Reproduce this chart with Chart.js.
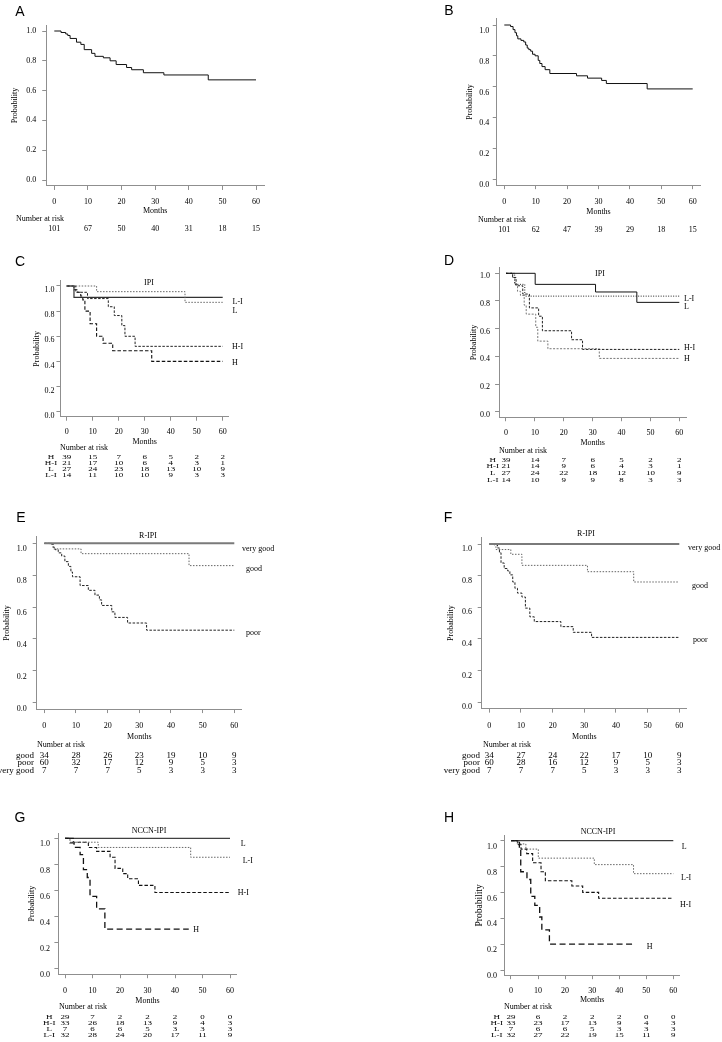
<!DOCTYPE html>
<html>
<head>
<meta charset="utf-8">
<script src="https://cdn.jsdelivr.net/npm/chart.js@4.4.0/dist/chart.umd.min.js"></script>
<style>
  html, body { margin: 0; padding: 0; background: #fff; }
  #page { position: relative; width: 722px; height: 1042px; overflow: hidden; }
  .cell { position: absolute; }
</style>
</head>
<body>
<div id="page"></div>
<script>
// axis ticks
const monthTicks = [0, 10, 20, 30, 40, 50, 60];
const probTicks = [0, 0.2, 0.4, 0.6, 0.8, 1.0];

// A - all patients
const aMonths = [0, 2.0, 3.4, 4.0, 4.7, 6.6, 7.9, 8.9, 11.1, 12.1, 14.6, 16.6, 18.4, 21.5, 23.0, 26.5, 32.6, 45.8, 60];
const aSurv = [1, 0.99, 0.98, 0.97, 0.95, 0.925, 0.91, 0.875, 0.85, 0.83, 0.82, 0.80, 0.775, 0.755, 0.74, 0.72, 0.705, 0.672, 0.672];
const aRisk = [101, 67, 50, 40, 31, 18, 15];

// B - all patients
const bMonths = [0, 2.0, 2.8, 3.4, 3.9, 4.3, 5.3, 6.2, 6.8, 7.3, 7.8, 8.4, 9.0, 9.8, 10.8, 11.3, 12.0, 13.0, 14.5, 23.0, 26.5, 31.0, 32.5, 45.5, 60];
const bSurv = [1, 0.99, 0.97, 0.95, 0.93, 0.91, 0.90, 0.89, 0.87, 0.85, 0.84, 0.83, 0.81, 0.80, 0.77, 0.75, 0.73, 0.71, 0.685, 0.67, 0.655, 0.64, 0.62, 0.585, 0.585];
const bRisk = [101, 62, 47, 39, 29, 18, 15];

// C - IPI
const cHMonths = [0, 2.8, 4.2, 5.4, 6.2, 7.0, 9.0, 11.5, 14.0, 17.7, 32.7, 60];
const cHSurv = [1, 0.97, 0.95, 0.92, 0.89, 0.80, 0.70, 0.60, 0.545, 0.485, 0.40, 0.40];
const cHIMonths = [0, 3.5, 8.0, 16.0, 18.3, 21.2, 22.4, 26.3, 60];
const cHISurv = [1, 0.95, 0.90, 0.835, 0.765, 0.685, 0.60, 0.52, 0.52];
const cLMonths = [0, 11.5, 45.5, 60];
const cLSurv = [1, 0.955, 0.87, 0.87];
const cLIMonths = [0, 2.8, 60];
const cLISurv = [1, 0.91, 0.91];
const cRiskH = [39, 15, 7, 6, 5, 2, 2];
const cRiskHI = [21, 17, 10, 6, 4, 3, 1];
const cRiskL = [27, 24, 23, 18, 13, 10, 9];
const cRiskLI = [14, 11, 10, 10, 9, 3, 3];

// D - IPI
const dHMonths = [0, 2.3, 3.1, 4.0, 5.0, 6.3, 7.0, 10.3, 11.0, 14.5, 32.3, 60];
const dHSurv = [1, 0.97, 0.92, 0.87, 0.84, 0.77, 0.705, 0.61, 0.51, 0.455, 0.385, 0.385];
const dHIMonths = [0, 2.3, 3.5, 5.8, 8.1, 11.3, 12.6, 22.7, 26.5, 60];
const dHISurv = [1, 0.97, 0.91, 0.85, 0.75, 0.69, 0.585, 0.52, 0.45, 0.45];
const dLMonths = [0, 10.1, 31.0, 45.3, 60];
const dLSurv = [1, 0.92, 0.865, 0.79, 0.79];
const dLIMonths = [0, 3.0, 6.5, 60];
const dLISurv = [1, 0.92, 0.835, 0.835];
const dRiskH = [39, 14, 7, 6, 5, 2, 2];
const dRiskHI = [21, 14, 9, 6, 4, 3, 1];
const dRiskL = [27, 24, 22, 18, 12, 10, 9];
const dRiskLI = [14, 10, 9, 9, 8, 3, 3];

// E - R-IPI
const eVgMonths = [0, 60];
const eVgSurv = [1, 1];
const eGoodMonths = [0, 2.8, 11.6, 45.7, 60];
const eGoodSurv = [1, 0.965, 0.935, 0.86, 0.86];
const ePoorMonths = [0, 1.8, 2.8, 3.4, 4.4, 5.5, 6.5, 7.6, 8.4, 8.9, 11.3, 13.9, 16.0, 17.4, 18.1, 21.3, 22.3, 26.3, 32.3, 60];
const ePoorSurv = [1, 0.994, 0.975, 0.96, 0.94, 0.92, 0.885, 0.855, 0.82, 0.79, 0.735, 0.705, 0.675, 0.645, 0.61, 0.57, 0.535, 0.50, 0.455, 0.455];
const eRiskGood = [34, 28, 26, 23, 19, 10, 9];
const eRiskPoor = [60, 32, 17, 12, 9, 5, 3];
const eRiskVg = [7, 7, 7, 5, 3, 3, 3];

// F - R-IPI
const fVgMonths = [0, 60];
const fVgSurv = [1, 1];
const fGoodMonths = [0, 2.1, 6.8, 10.3, 31.0, 45.6, 60];
const fGoodSurv = [1, 0.965, 0.935, 0.865, 0.825, 0.76, 0.76];
const fPoorMonths = [0, 1.6, 2.6, 3.2, 3.7, 4.7, 5.8, 6.5, 7.4, 8.1, 8.9, 10.3, 11.4, 12.8, 14.2, 22.6, 26.5, 32.3, 60];
const fPoorSurv = [1, 0.994, 0.975, 0.945, 0.88, 0.845, 0.83, 0.805, 0.76, 0.72, 0.69, 0.665, 0.595, 0.54, 0.51, 0.478, 0.442, 0.41, 0.41];
const fRiskGood = [34, 27, 24, 22, 17, 10, 9];
const fRiskPoor = [60, 28, 16, 12, 9, 5, 3];
const fRiskVg = [7, 7, 7, 5, 3, 3, 3];

// G - NCCN-IPI
const gLMonths = [0, 60];
const gLSurv = [1, 1];
const gLIMonths = [0, 1.8, 12.1, 45.7, 60];
const gLISurv = [1, 0.97, 0.93, 0.855, 0.855];
const gHIMonths = [0, 3.0, 8.5, 11.5, 16.4, 18.2, 21.0, 22.8, 26.7, 32.7, 60];
const gHISurv = [1, 0.97, 0.93, 0.90, 0.855, 0.77, 0.73, 0.69, 0.64, 0.585, 0.585];
const gHMonths = [0, 1.8, 3.3, 5.5, 6.7, 8.1, 9.1, 11.5, 14.5, 45];
const gHSurv = [1, 0.965, 0.93, 0.875, 0.76, 0.70, 0.555, 0.46, 0.305, 0.305];
const gRiskH = [29, 7, 2, 2, 2, 0, 0];
const gRiskHI = [33, 26, 18, 13, 9, 4, 3];
const gRiskL = [7, 6, 6, 5, 3, 3, 3];
const gRiskLI = [32, 28, 24, 20, 17, 11, 9];

// H - NCCN-IPI
const hLMonths = [0, 60];
const hLSurv = [1, 1];
const hLIMonths = [0, 2.2, 5.5, 10.1, 30.8, 45.3, 60];
const hLISurv = [1, 0.975, 0.935, 0.865, 0.815, 0.745, 0.745];
const hHIMonths = [0, 2.5, 3.7, 5.8, 8.0, 11.1, 12.7, 22.5, 26.5, 32.4, 60];
const hHISurv = [1, 0.97, 0.935, 0.90, 0.83, 0.76, 0.69, 0.65, 0.60, 0.555, 0.555];
const hHMonths = [0, 3.1, 3.6, 5.9, 7.3, 8.8, 10.6, 11.4, 14.2, 45.6];
const hHSurv = [1, 0.93, 0.76, 0.70, 0.57, 0.50, 0.41, 0.31, 0.20, 0.20];
const hRiskH = [29, 6, 2, 2, 2, 0, 0];
const hRiskHI = [33, 23, 17, 13, 9, 4, 3];
const hRiskL = [7, 6, 6, 5, 3, 3, 3];
const hRiskLI = [32, 27, 22, 19, 15, 11, 9];

const serif = '"Liberation Serif", "Times New Roman", serif';
const sans = '"Liberation Sans", Arial, sans-serif';
const axisGray = '#8f8f8f';

// line styles
const solidBlack = { borderColor: '#111', borderWidth: 1 };
const solidDark = { borderColor: '#333', borderWidth: 1.2 };
const solidGray = { borderColor: '#7a7a7a', borderWidth: 2 };
const dottedGray = { borderColor: '#666', borderWidth: 1, borderDash: [1.5, 1.5] };
const dottedBlack = { borderColor: '#222', borderWidth: 1, borderDash: [1, 1.5] };
const dashFine = { borderColor: '#222', borderWidth: 1, borderDash: [2.5, 1.5] };
const dashed = { borderColor: '#111', borderWidth: 1.1, borderDash: [3.5, 2] };
const dashLong = { borderColor: '#111', borderWidth: 1.3, borderDash: [6, 3.5] };
const dotLight = { borderColor: '#777', borderWidth: 1, borderDash: [2, 1.5] };

const panels = [
  { cell: { left: 0, top: 0, w: 361, h: 250 }, x0: 54.3, x60: 256, y1: 31, y0: 180, yOff: 0, yGap: 10,
    tickY: 202, monthsY: 211, probX: 15, letter: ['A', 20, 12], title: null, labels: [],
    riskX: 16, riskY: 219, rowsY: [229], rowLabelX: 0, rowAlign: 'center', rowSquash: 1,
    series: [[aMonths, aSurv, solidBlack]], rows: [['', aRisk]] },
  { cell: { left: 361, top: 0, w: 361, h: 250 }, x0: 504.3, x60: 692.7, y1: 25, y0: 179, yOff: 6, yGap: 7.5,
    tickY: 202, monthsY: 212, probX: 470, letter: ['B', 449, 11], title: null, labels: [],
    riskX: 478, riskY: 220, rowsY: [230], rowLabelX: 0, rowAlign: 'center', rowSquash: 1,
    series: [[bMonths, bSurv, solidBlack]], rows: [['', bRisk]] },
  { cell: { left: 0, top: 250, w: 361, h: 250 }, x0: 66.7, x60: 222.7, y1: 286, y0: 411.7, yOff: 4, yGap: 6,
    tickY: 432, monthsY: 442, probX: 37, letter: ['C', 20, 262], title: ['IPI', 149, 283],
    labels: [['L-I', 232.5, 302], ['L', 232.5, 311], ['H-I', 232, 347], ['H', 232, 363]],
    riskX: 60, riskY: 448, rowsY: [457, 463, 469, 475], rowLabelX: 51, rowAlign: 'center', rowSquash: 0.72,
    series: [[cLMonths, cLSurv, dottedGray], [cLIMonths, cLISurv, solidDark], [cHIMonths, cHISurv, dashFine], [cHMonths, cHSurv, dashed]],
    rows: [['H', cRiskH], ['H-I', cRiskHI], ['L', cRiskL], ['L-I', cRiskLI]] },
  { cell: { left: 361, top: 250, w: 361, h: 250 }, x0: 506, x60: 679.3, y1: 273.3, y0: 411.7, yOff: 3, yGap: 9,
    tickY: 433, monthsY: 443, probX: 474, letter: ['D', 449, 261], title: ['IPI', 600, 274],
    labels: [['L-I', 684, 299], ['L', 684, 307], ['H-I', 684, 348], ['H', 684, 359]],
    riskX: 499, riskY: 451, rowsY: [460.7, 466.7, 473.3, 480], rowLabelX: 492.7, rowAlign: 'center', rowSquash: 0.75,
    series: [[dLMonths, dLSurv, solidBlack], [dLIMonths, dLISurv, dottedBlack], [dHIMonths, dHISurv, dashFine], [dHMonths, dHSurv, dotLight]],
    rows: [['H', dRiskH], ['H-I', dRiskHI], ['L', dRiskL], ['L-I', dRiskLI]] },
  { cell: { left: 0, top: 500, w: 361, h: 280 }, x0: 44.3, x60: 234.3, y1: 543.3, y0: 702.7, yOff: 6, yGap: 10,
    tickY: 726, monthsY: 737, probX: 7, letter: ['E', 21, 518], title: ['R-IPI', 148, 536],
    labels: [['very good', 242, 549], ['good', 246, 569], ['poor', 246, 633]],
    riskX: 37, riskY: 745, rowsY: [756, 763, 771], rowLabelX: 34, rowAlign: 'right', rowSquash: 0.85,
    series: [[eVgMonths, eVgSurv, solidGray], [eGoodMonths, eGoodSurv, dottedGray], [ePoorMonths, ePoorSurv, dashFine]],
    rows: [['good', eRiskGood], ['poor', eRiskPoor], ['very good', eRiskVg]] },
  { cell: { left: 361, top: 500, w: 361, h: 280 }, x0: 489.3, x60: 679.3, y1: 544, y0: 702.3, yOff: 5, yGap: 9.7,
    tickY: 726, monthsY: 737, probX: 451, letter: ['F', 448, 518], title: ['R-IPI', 586, 534],
    labels: [['very good', 688, 548], ['good', 692, 586], ['poor', 693, 640]],
    riskX: 483, riskY: 745, rowsY: [756, 763, 771], rowLabelX: 480, rowAlign: 'right', rowSquash: 0.85,
    series: [[fVgMonths, fVgSurv, solidGray], [fGoodMonths, fGoodSurv, dottedGray], [fPoorMonths, fPoorSurv, dashFine]],
    rows: [['good', fRiskGood], ['poor', fRiskPoor], ['very good', fRiskVg]] },
  { cell: { left: 0, top: 780, w: 361, h: 262 }, x0: 65, x60: 230, y1: 838.3, y0: 969, yOff: 6, yGap: 8.4,
    tickY: 991, monthsY: 1000.7, probX: 32, letter: ['G', 20, 818], title: ['NCCN-IPI', 149, 831],
    labels: [['L', 240.7, 844], ['L-I', 242.7, 861], ['H-I', 237.7, 893], ['H', 193.3, 930]],
    riskX: 59, riskY: 1007, rowsY: [1017.3, 1023.3, 1029.3, 1035.3], rowLabelX: 49.3, rowAlign: 'center', rowSquash: 0.72,
    series: [[gLMonths, gLSurv, solidBlack], [gLIMonths, gLISurv, dottedGray], [gHIMonths, gHISurv, dashed], [gHMonths, gHSurv, dashLong]],
    rows: [['H', gRiskH], ['H-I', gRiskHI], ['L', gRiskL], ['L-I', gRiskLI]] },
  { cell: { left: 361, top: 780, w: 361, h: 262 }, x0: 511, x60: 673.3, y1: 840.7, y0: 970, yOff: 6, yGap: 7.5,
    tickY: 991, monthsY: 1000, probX: 479, probSize: 9.5, letter: ['H', 449, 818], title: ['NCCN-IPI', 598, 832],
    labels: [['L', 681.7, 847], ['L-I', 681, 878], ['H-I', 680, 905], ['H', 646.7, 947]],
    riskX: 504, riskY: 1007, rowsY: [1017, 1023, 1029, 1035], rowLabelX: 496.7, rowAlign: 'center', rowSquash: 0.72,
    series: [[hLMonths, hLSurv, solidBlack], [hLIMonths, hLISurv, dottedGray], [hHIMonths, hHISurv, dashed], [hHMonths, hHSurv, dashLong]],
    rows: [['H', hRiskH], ['H-I', hRiskHI], ['L', hRiskL], ['L-I', hRiskLI]] }
];

function km(months, surv) {
  return months.map((t, i) => ({ x: t, y: surv[i] }));
}

function buildPanel(p) {
  const c = p.cell;
  const div = document.createElement('div');
  div.className = 'cell';
  div.style.left = c.left + 'px';
  div.style.top = c.top + 'px';
  div.style.width = c.w + 'px';
  div.style.height = c.h + 'px';
  const canvas = document.createElement('canvas');
  canvas.width = c.w;
  canvas.height = c.h;
  div.appendChild(canvas);
  document.getElementById('page').appendChild(div);

  // R style plot region: 4% beyond the data range
  const kx = (p.x60 - p.x0) / 60;
  const ky = p.y0 - p.y1;
  const caLeft = p.x0 - 2.4 * kx - c.left;
  const caRight = p.x60 + 2.4 * kx - c.left;
  const caTop = p.y1 - 0.04 * ky - c.top;
  const caBottom = p.y0 + 0.04 * ky - c.top;
  const lh = 8 * 1.2;
  const probSize = p.probSize || 8;
  const xAxisH = (p.monthsY - c.top) - caBottom + lh / 2;

  const extras = {
    id: 'extras',
    afterDraw(chart) {
      const ctx = chart.ctx;
      const xs = chart.scales.x;
      ctx.save();
      ctx.fillStyle = '#000';
      ctx.textBaseline = 'middle';
      ctx.textAlign = 'center';
      ctx.font = '14px ' + sans;
      ctx.fillText(p.letter[0], p.letter[1] - c.left, p.letter[2] - c.top);
      ctx.font = '8px ' + serif;
      if (p.title) ctx.fillText(p.title[0], p.title[1] - c.left, p.title[2] - c.top);
      ctx.textAlign = 'left';
      p.labels.forEach(l => ctx.fillText(l[0], l[1] - c.left, l[2] - c.top));
      ctx.fillText('Number at risk', p.riskX - c.left, p.riskY - c.top);
      // risk table, squashed vertically like the original
      const sq = p.rowSquash;
      ctx.font = (sq < 1 ? 9 : 8) + 'px ' + serif;
      p.rows.forEach((row, r) => {
        const y = p.rowsY[r] - c.top;
        ctx.save();
        ctx.translate(0, y);
        ctx.scale(1, sq);
        if (row[0]) {
          ctx.textAlign = p.rowAlign;
          ctx.fillText(row[0], p.rowLabelX - c.left, 0);
        }
        ctx.textAlign = 'center';
        row[1].forEach((v, i) => ctx.fillText(String(v), xs.getPixelForValue(monthTicks[i]), 0));
        ctx.restore();
      });
      ctx.restore();
    }
  };

  const tickFont = { family: serif, size: 8 };
  const grid = { display: true, drawOnChartArea: false, drawTicks: true, tickLength: 4, color: axisGray, lineWidth: 1 };
  const border = { display: true, color: axisGray, width: 1 };

  new Chart(canvas, {
    type: 'line',
    data: {
      datasets: p.series.map(s => Object.assign({
        data: km(s[0], s[1]),
        stepped: true,
        pointRadius: 0,
        fill: false,
        tension: 0
      }, s[2]))
    },
    options: {
      responsive: false,
      animation: false,
      events: [],
      layout: { padding: { left: 0, top: caTop, right: c.w - caRight, bottom: c.h - caBottom - xAxisH } },
      plugins: { legend: { display: false }, tooltip: { enabled: false } },
      scales: {
        x: {
          type: 'linear', min: -2.4, max: 62.4,
          afterBuildTicks: s => { s.ticks = monthTicks.map(v => ({ value: v })); },
          afterFit: s => { s.height = xAxisH; },
          grid: grid, border: border,
          ticks: { font: tickFont, color: '#000', maxRotation: 0, autoSkip: false,
            padding: (p.tickY - c.top) - caBottom - 4 - lh / 2 },
          title: { display: true, text: 'Months', font: tickFont, color: '#000', padding: 0 }
        },
        y: {
          type: 'linear', min: -0.04, max: 1.04,
          afterBuildTicks: s => { s.ticks = probTicks.map(v => ({ value: v })); },
          afterFit: s => { s.width = caLeft; },
          grid: grid, border: border,
          ticks: { font: tickFont, color: '#000', autoSkip: false, padding: p.yGap - 4, labelOffset: p.yOff,
            callback: v => v.toFixed(1) },
          title: { display: true, text: 'Probability', font: { family: serif, size: probSize }, color: '#000',
            padding: { top: (p.probX - c.left) - probSize * 0.6, bottom: 0 } }
        }
      }
    },
    plugins: [extras]
  });
}

panels.forEach(buildPanel);
</script>
</body>
</html>
